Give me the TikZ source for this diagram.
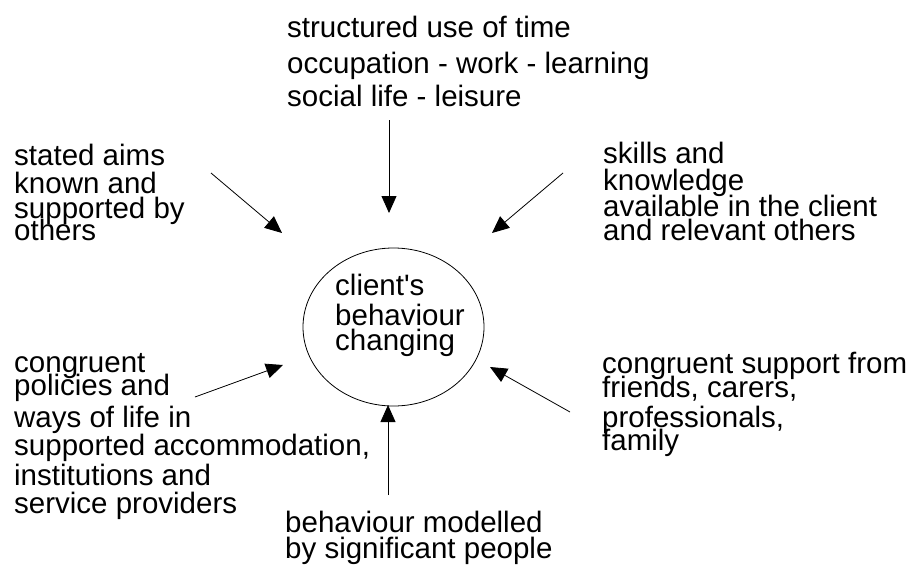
\documentclass[tikz,border=0pt]{standalone}
\usepackage{fontspec}
\setmainfont{Liberation Sans}
\usetikzlibrary{arrows.meta,shapes.geometric}
\newcommand\fl{\rule{0pt}{25pt}}
\newcommand\lblfont{\fontsize{29.5}{20}\selectfont\lineskiplimit=-100pt\relax\lineskip=0pt\relax}
\begin{document}
\begin{tikzpicture}[x=1pt,y=-1pt,
  lbl/.style={anchor=north west, inner sep=0pt, align=left, font=\lblfont},
  arr/.style={-{Triangle[length=17pt,width=15pt]}, line width=0.8pt},
  hub/.style={draw, ellipse, line width=0.8pt, inner sep=0pt,
    minimum width=181pt, minimum height=158pt}]
\useasboundingbox (0,0) rectangle (914,568);
% central ellipse
\node[hub] (c) at (393.5,327) {};
\node[lbl] (ct) at (335,270) {\fl client\textquotesingle s\\[10pt]behaviour\\[5pt]changing};
% text blocks
\node[lbl] (top) at (287,12) {\fl structured use of time\\[16pt]occupation - work - learning\\[13pt]social life - leisure};
\node[lbl] (ul) at (14,140) {\fl stated aims\\[8pt]known and\\[5pt]supported by\\[2pt]others};
\node[lbl] (ur) at (603,138) {\fl skills and\\[7pt]knowledge\\[6pt]available in the client\\[4pt]and relevant others};
\node[lbl] (ll) at (14,347) {\fl congruent\\[3pt]policies and\\[12pt]ways of life in\\[8pt]supported accommodation,\\[10pt]institutions and\\[8pt]service providers};
\node[lbl] (lr) at (602,348) {\fl congruent support from\\[4pt]friends, carers,\\[10pt]professionals,\\[3pt]family};
\node[lbl] (bot) at (285,507) {\fl behaviour modelled\\[6pt]by significant people};
% arrow end points
\coordinate (s1) at (389,120); \coordinate (e1) at (389,213);
\coordinate (s2) at (211,173); \coordinate (e2) at (282,233);
\coordinate (s3) at (563,173); \coordinate (e3) at (492,233);
\coordinate (s4) at (195,397); \coordinate (e4) at (283,365);
\coordinate (s5) at (570,412); \coordinate (e5) at (490,367);
\coordinate (s6) at (388,495); \coordinate (e6) at (388,405);
\draw[arr] (s1) -- (e1);
\draw[arr] (s2) -- (e2);
\draw[arr] (s3) -- (e3);
\draw[arr] (s4) -- (e4);
\draw[arr] (s5) -- (e5);
\draw[arr] (s6) -- (e6);
\end{tikzpicture}
\end{document}
